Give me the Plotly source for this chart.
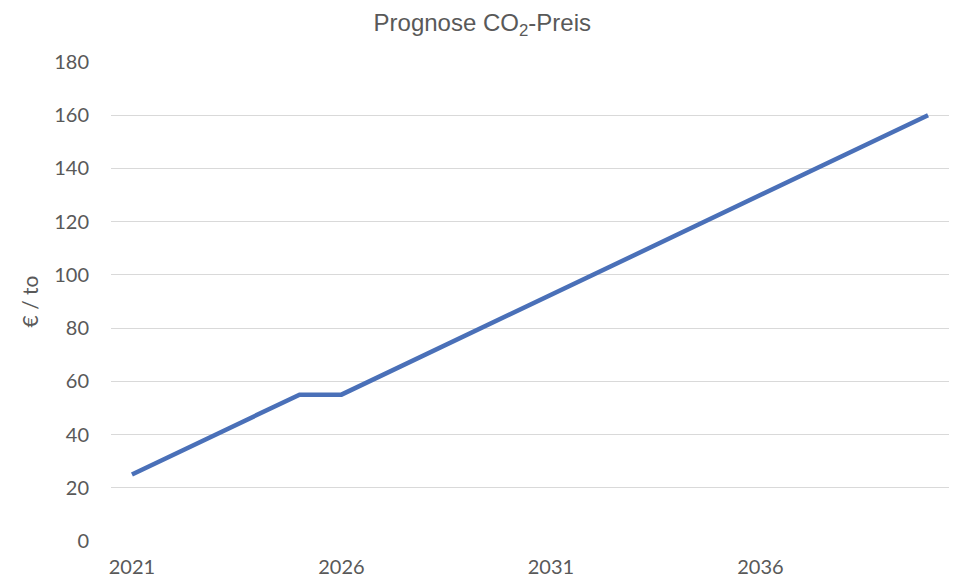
import plotly.graph_objects as go

years = list(range(2021, 2041))
prices = [25, 32.5, 40, 47.5, 55, 55, 62.5, 70, 77.5, 85, 92.5, 100, 107.5, 115,
          122.5, 130, 137.5, 145, 152.5, 160]
x_ticks = [2021, 2026, 2031, 2036]
y_ticks = [0, 20, 40, 60, 80, 100, 120, 140, 160, 180]

fig = go.Figure()
fig.add_trace(go.Scatter(x=years, y=prices, mode="lines",
                         line=dict(color="#4A70B8", width=4.5),
                         hoverinfo="x+y"))

fig.update_layout(
    width=955, height=584,
    margin=dict(l=111, r=6, t=62, b=43),
    paper_bgcolor="white", plot_bgcolor="white",
    showlegend=False,
    title=dict(text="Prognose CO<sub>2</sub>-Preis", x=0.505, xanchor="center",
               y=0.962, yanchor="middle",
               font=dict(family="Liberation Sans, Arial", size=24, color="#595959")),
    font=dict(family="Lato, Calibri, sans-serif", size=20, color="#595959"),
)
fig.update_xaxes(range=[2020.5, 2040.5], tickvals=x_ticks, ticktext=[str(v) for v in x_ticks],
                 showgrid=False, zeroline=False, showline=False, ticks="",
                 ticklabelstandoff=12, tickfont=dict(size=20, color="#595959"))
fig.update_yaxes(range=[0, 180], tickvals=y_ticks, showgrid=True, gridcolor="#D9D9D9",
                 gridwidth=1, zeroline=False, showline=False, ticks="",
                 ticklabelstandoff=21, tickfont=dict(size=20, color="#595959"),
                 title=dict(text="€ / to", standoff=9,
                            font=dict(size=21, color="#595959")))

fig.write_html("out.html")
